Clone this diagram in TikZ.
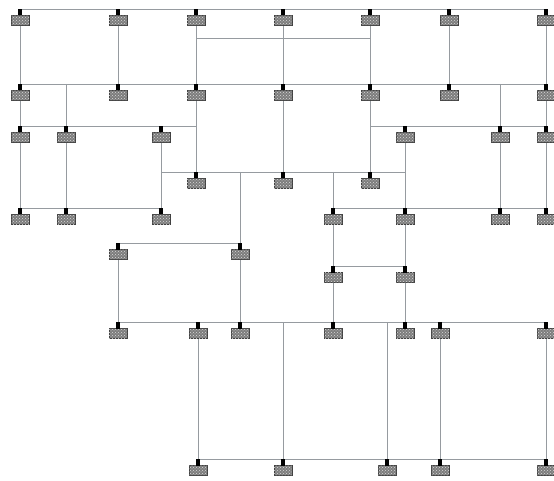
\documentclass[tikz,border=0pt]{standalone}
\usetikzlibrary{patterns}
\definecolor{wire}{RGB}{150,155,160}
\definecolor{boxfill}{RGB}{125,125,125}
\tikzset{
  wireline/.style={draw=wire, line width=0.7pt},
  devbox/.style={rectangle, minimum width=18pt, minimum height=10pt, inner sep=0pt,
    fill=boxfill, draw=black!75, line width=0.6pt,
    postaction={pattern=crosshatch dots, pattern color=white!70!gray}},
  devtab/.style={fill=black},
}
\newcommand\dev[3]{%
  \node[devbox] (#1) at (#2,#3+11.5) {};
  \fill[devtab] (#2-1.6,#3) rectangle (#2+1.6,#3+6.5);
}
\begin{document}
\begin{tikzpicture}[x=1pt,y=-1pt]
\useasboundingbox (0,0) rectangle (554,481);
% buses
\foreach \xa/\xb/\yy in {20/546/9,196/370/38,20/546/84,20/196/126,370/546/126,
  161/405/172,20/161/208,333/546/208,118/240/243,333/405/266,118/546/322,198/546/459}
  {\draw[wireline] (\xa,\yy) coordinate (b-\xa-\yy) -- (\xb,\yy);}
% drops
\foreach \xx/\ya/\yb in {20/9/208,66/84/208,118/9/84,118/243/322,161/126/208,
  196/9/172,240/172/322,283/9/172,283/322/459,333/172/322,370/9/172,387/322/459,
  405/126/322,440/322/459,449/9/84,500/84/208,546/9/208,546/322/459,198/322/459}
  {\draw[wireline] (\xx,\ya) -- (\xx,\yb);}
% devices
\foreach \xx in {20,118,196,283,370,449,546} {\dev{r1-\xx}{\xx}{9}}
\foreach \xx in {20,118,196,283,370,449,546} {\dev{r2-\xx}{\xx}{84}}
\foreach \xx in {20,66,161,405,500,546} {\dev{r3-\xx}{\xx}{126}}
\foreach \xx in {196,283,370} {\dev{r4-\xx}{\xx}{172}}
\foreach \xx in {20,66,161,333,405,500,546} {\dev{r5-\xx}{\xx}{208}}
\foreach \xx in {118,240} {\dev{r6-\xx}{\xx}{243}}
\foreach \xx in {333,405} {\dev{r7-\xx}{\xx}{266}}
\foreach \xx in {118,198,240,333,405,440,546} {\dev{r8-\xx}{\xx}{322}}
\foreach \xx in {198,283,387,440,546} {\dev{r9-\xx}{\xx}{459}}
\end{tikzpicture}
\end{document}
